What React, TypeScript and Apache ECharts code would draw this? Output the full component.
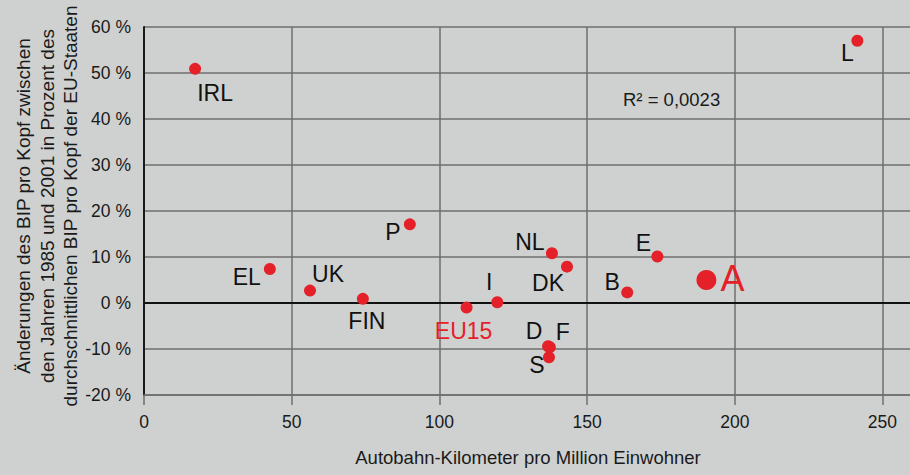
import React, { useEffect, useRef } from "react";
import * as echarts from "echarts";

// ---- data ----
const countries = ["IRL", "L", "P", "EL", "UK", "FIN", "NL", "DK", "E", "B", "A", "I", "EU15", "D", "F", "S"];
const autobahnKm = [17.3, 241.5, 90, 42.6, 56.2, 74.1, 138.1, 143.2, 173.8, 163.6, 190.4, 119.6, 109.2, 136.8, 137.4, 137.1];
const bipChange = [50.9, 57.0, 17.1, 7.4, 2.7, 0.9, 10.8, 7.9, 10.1, 2.3, 5.0, 0.15, -1.0, -9.4, -9.6, -11.8];
const xMin = 0;
const xMax = 260;
const xStep = 50;
const yMin = -20;
const yMax = 60;
const yStep = 10;
const r2Text = "R² = 0,0023";
const xTitle = "Autobahn-Kilometer pro Million Einwohner";
const yTitleLines = [
  "Änderungen des BIP pro Kopf zwischen",
  "den Jahren 1985 und 2001 in Prozent des",
  "durchschnittlichen BIP pro Kopf der EU-Staaten",
];

// ---- styles ----
const labelOffsets: Record<string, [number, number]> = {
  IRL: [20, 24],
  L: [-10, 12],
  P: [-17, 8],
  EL: [-23, 8],
  UK: [18, -17],
  FIN: [4, 22],
  NL: [-22, -11],
  DK: [-19, 16],
  E: [-14, -14],
  B: [-15, -10],
  A: [26, -2],
  I: [-8, -20],
  EU15: [-3, 23],
  D: [-14, -15],
  F: [13, -15],
  S: [-12, 8],
};
const redLabels = new Set(["A", "EU15"]);
const FONT = "'Liberation Sans', Arial, sans-serif";
const BG = "#cfd1d0";
const GRID = "#6e6e6e";
const RED = "#e42129";
const TEXT = "#1a1a1a";

export default function App() {
  const ref = useRef<HTMLDivElement>(null);
  useEffect(() => {
    if (!ref.current) return;
    const chart = echarts.init(ref.current, undefined, { renderer: "svg" });
    const data = countries.map((c, i) => ({
      name: c,
      value: [autobahnKm[i], bipChange[i]],
      symbolSize: c === "A" ? 20 : 12,
      label: {
        show: true,
        formatter: "{b}",
        position: "inside",
        align: "center",
        verticalAlign: "middle",
        offset: labelOffsets[c] || [0, 0],
        fontSize: c === "A" ? 36 : 23,
        fontFamily: FONT,
        color: redLabels.has(c) ? RED : "#111",
      },
    }));
    chart.setOption({
      animation: false,
      backgroundColor: BG,
      grid: { left: 144, top: 27, width: 768, height: 368, outerBoundsMode: "none", containLabel: false },
      xAxis: {
        type: "value",
        min: xMin,
        max: xMax,
        interval: xStep,
        name: xTitle,
        nameLocation: "middle",
        nameGap: 53,
        nameTextStyle: { fontSize: 18.5, color: TEXT, fontFamily: FONT },
        axisLine: { show: true, onZero: false, lineStyle: { color: GRID, width: 1.5 } },
        axisTick: { show: true, length: 10, lineStyle: { color: GRID, width: 1.5 } },
        axisLabel: { showMaxLabel: false, margin: 18, fontSize: 17.5, color: TEXT, fontFamily: FONT },
        splitLine: { show: true, lineStyle: { color: GRID, width: 1.5 } },
      },
      yAxis: {
        type: "value",
        min: yMin,
        max: yMax,
        interval: yStep,
        axisLine: { show: true, onZero: false, lineStyle: { color: TEXT, width: 2 } },
        axisTick: { show: false },
        axisLabel: { formatter: "{value} %", margin: 13, fontSize: 17.5, color: TEXT, fontFamily: FONT },
        splitLine: { show: true, lineStyle: { color: GRID, width: 1.5 } },
      },
      graphic: [
        {
          type: "text",
          left: 623,
          top: 90,
          style: { text: r2Text, fontSize: 18.5, fill: TEXT, fontFamily: FONT },
        },
        {
          type: "text",
          x: 47,
          y: 206,
          rotation: Math.PI / 2,
          style: {
            text: yTitleLines.join("\n"),
            fontSize: 19,
            lineHeight: 23.5,
            fill: TEXT,
            fontFamily: FONT,
            align: "center",
            verticalAlign: "middle",
          },
        },
      ],
      series: [
        {
          type: "scatter",
          z: 1,
          data: [],
          markLine: {
            silent: true,
            z: 1,
            symbol: "none",
            label: { show: false },
            lineStyle: { color: "#111", width: 2, type: "solid" },
            data: [{ yAxis: 0 }],
          },
        },
        {
          type: "scatter",
          z: 3,
          itemStyle: { color: RED, opacity: 1 },
          data,
        },
      ],
    });
    return () => chart.dispose();
  }, []);
  return (
    <div
      ref={ref}
      style={{ position: "fixed", left: 0, top: 0, width: 910, height: 475, background: BG }}
    />
  );
}
